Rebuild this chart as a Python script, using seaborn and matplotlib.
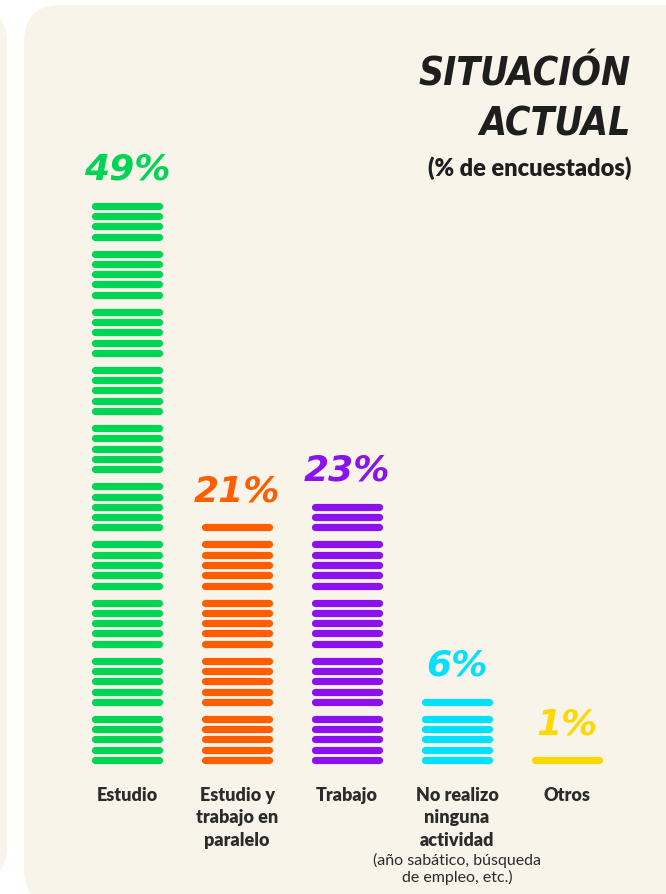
import matplotlib.pyplot as plt
import numpy as np
import pandas as pd
import seaborn as sns
from matplotlib.patches import FancyBboxPatch

categories = ["Estudio", "Estudio y\ntrabajo en\nparalelo", "Trabajo",
              "No realizo\nninguna\nactividad", "Otros"]
percentages = [49, 21, 23, 6, 1]
colors = ["#00D455", "#FF5E00", "#8B12EE", "#00E1FF", "#FFD800"]
note = "(año sabático, búsqueda\nde empleo, etc.)"

GROUP = 5        # one stripe = 1 %, stripes grouped by five
GROUP_GAP = 0.65  # extra space between groups (stripe units)
HALF_W = 0.295    # half width of a stripe (category units)

# one row per stripe end point
rows = []
for i, (cat, pct) in enumerate(zip(categories, percentages)):
    for k in range(pct):
        pos = k + GROUP_GAP * (k // GROUP)
        for dx in (-HALF_W, HALF_W):
            rows.append({"cat": cat, "stripe": f"{i}-{k}", "x": i + dx, "y": pos})
df = pd.DataFrame(rows)
tops = df.groupby("cat", sort=False)["y"].max()

sns.set_theme(style="white")
plt.rcParams["font.family"] = ["Lato", "DejaVu Sans"]

fig = plt.figure(figsize=(6.66, 8.94), dpi=100)
fig.patch.set_facecolor("white")
W, H = 666, 894
bg = "#F8F4EA"

# background panels (figure pixel units)
for x0, y0, w, h in [(-60, 6, 67, 877), (24, 5, 680, 900)]:
    fig.patches.append(FancyBboxPatch(
        (x0 / W, 1 - (y0 + h) / H), w / W, h / H,
        boxstyle="round,pad=0,rounding_size=0.055", mutation_aspect=W / H,
        facecolor=bg, edgecolor="none", transform=fig.transFigure, zorder=-5))

# axes placed so that one stripe unit ~ 10.3 px
ax_left, ax_right = 72, 622
ax_bottom, ax_top = 775.5, 130
ax = fig.add_axes([ax_left / W, 1 - ax_bottom / H,
                   (ax_right - ax_left) / W, (ax_bottom - ax_top) / H])
ax.set_facecolor("none")

sns.lineplot(data=df, x="x", y="y", hue="cat", units="stripe", estimator=None,
             palette=colors, linewidth=5.2, solid_capstyle="round",
             legend=False, ax=ax, sort=False)

ax.set_xlim(-0.5, 4.5)
ax.set_ylim(-1.5, 61.2)
sns.despine(ax=ax, left=True, bottom=True)
ax.set_yticks([])
ax.set_ylabel("")
ax.set_xlabel("")
ax.set_xticks(range(len(categories)))
ax.set_xticklabels(categories, fontsize=13, fontweight="heavy", color="#2b2b2b",
                   linespacing=1.4, va="top")
ax.tick_params(axis="x", length=0, pad=8)

for i, (pct, col) in enumerate(zip(percentages, colors)):
    ax.text(i, tops.iloc[i] + 3.5, f"{pct}%", ha="center", va="center",
            fontsize=26, fontweight="bold", fontstyle="italic", color=col,
            family=["DejaVu Sans"])

# note under "No realizo ninguna actividad"
ax.annotate(note, xy=(3, 0), xycoords=("data", "axes fraction"),
            xytext=(0, -56), textcoords="offset points", ha="center", va="top",
            fontsize=11.5, color="#2b2b2b", linespacing=1.15)

# title
for txt, y in [("SITUACIÓN", 75), ("ACTUAL", 125)]:
    fig.text(631 / W, 1 - y / H, txt, ha="right", va="center",
             fontsize=28, fontweight="bold", fontstyle="italic",
             fontstretch="condensed", color="#1e1e1e",
             family=["DejaVu Sans"])
fig.text(631 / W, 1 - 168 / H, "(% de encuestados)", ha="right", va="center",
         fontsize=17, fontweight="heavy", color="#1e1e1e")

fig.savefig("out.png", dpi=100, facecolor=fig.get_facecolor())
